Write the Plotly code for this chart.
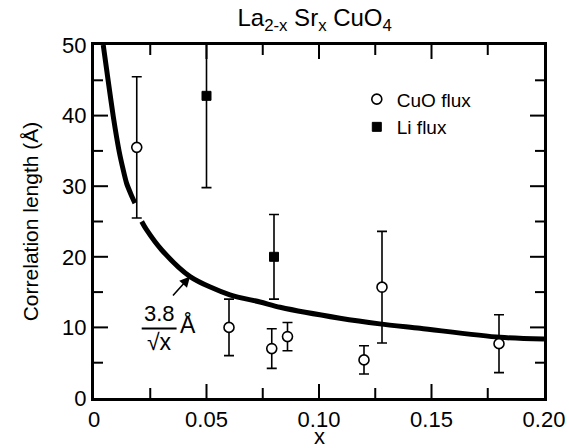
import plotly.graph_objects as go

# CuO flux data
cuo_x = [0.019, 0.060, 0.079, 0.086, 0.120, 0.128, 0.180]
cuo_y = [35.5, 10.0, 7.0, 8.7, 5.4, 15.7, 7.7]
cuo_err = [10.0, 4.0, 2.8, 2.0, 2.0, 7.9, 4.1]

# Li flux data
li_x = [0.050, 0.080]
li_y = [42.8, 20.0]
li_err = [13.0, 6.0]

# Curve 3.8/sqrt(x) as drawn (two pieces, gap at error-bar cap)
curve1_x = [0.0041, 0.0064, 0.0086, 0.0112, 0.0130, 0.0145, 0.0165, 0.0182]
curve1_y = [50.0, 44.7, 39.8, 34.9, 32.3, 30.4, 28.8, 27.6]
curve2_x = [0.0212, 0.0234, 0.030, 0.0427, 0.0604, 0.0738, 0.0827, 0.1093, 0.127, 0.1449, 0.1804, 0.200]
curve2_y = [25.0, 23.8, 21.0, 17.2, 14.6, 13.6, 12.85, 11.3, 10.5, 9.87, 8.6, 8.36]

# tick positions (major, minor)
x_major = [0.05, 0.10, 0.15]
x_minor = [0.025, 0.075, 0.125, 0.175]
y_major = [10, 20, 30, 40]
y_minor = [5, 15, 25, 35, 45]
x_range = [0, 0.2]
y_range = [0, 50]

FONT = "Liberation Sans, Arial, sans-serif"

W, H = 569, 448
ML, MR, MT, MB = 94, 25, 45, 50
px_x = (W - ML - MR) / (x_range[1] - x_range[0])   # pixels per x unit
px_y = (H - MT - MB) / (y_range[1] - y_range[0])   # pixels per y unit

fig = go.Figure()

# inward frame ticks built from the tick arrays (lengths in pixels converted to data units)
tx, ty = [], []
for vals, length in ((x_major, 14), (x_minor, 10)):
    d = length / px_y
    for v in vals:
        tx += [v, v, None, v, v, None]
        ty += [y_range[0], y_range[0] + d, None, y_range[1], y_range[1] - d, None]
for vals, length in ((y_major, 14), (y_minor, 9)):
    d = length / px_x
    for v in vals:
        tx += [x_range[0], x_range[0] + d, None, x_range[1], x_range[1] - d, None]
        ty += [v, v, None, v, v, None]
fig.add_trace(go.Scatter(x=tx, y=ty, mode="lines", line=dict(color="black", width=2),
                         showlegend=False, hoverinfo="skip", connectgaps=False))

fig.add_trace(go.Scatter(x=curve1_x, y=curve1_y, mode="lines",
                         line=dict(color="black", width=5, shape="spline", smoothing=0.6),
                         showlegend=False, hoverinfo="skip"))
fig.add_trace(go.Scatter(x=curve2_x, y=curve2_y, mode="lines",
                         line=dict(color="black", width=5, shape="spline", smoothing=0.8),
                         showlegend=False, hoverinfo="skip"))

fig.add_trace(go.Scatter(x=cuo_x, y=cuo_y, mode="markers", name="CuO flux",
                         marker=dict(symbol="circle", size=10, color="white",
                                     line=dict(color="black", width=1.6)),
                         error_y=dict(type="data", array=cuo_err, visible=True,
                                      color="black", thickness=1.6, width=5)))
fig.add_trace(go.Scatter(x=li_x, y=li_y, mode="markers", name="Li flux",
                         marker=dict(symbol="square", size=9, color="black",
                                     line=dict(color="black", width=1)),
                         error_y=dict(type="data", array=li_err, visible=True,
                                      color="black", thickness=1.6, width=5)))

# fraction label 3.8/sqrt(x) Å with arrow
fig.add_annotation(x=0.029, y=12.0, text="3.8", showarrow=False,
                   font=dict(family=FONT, size=22, color="black"))
fig.add_shape(type="line", x0=0.0212, x1=0.0367, y0=9.85, y1=9.85,
              line=dict(color="black", width=2))
fig.add_annotation(x=0.029, y=7.9, text="√x", showarrow=False,
                   font=dict(family=FONT, size=23, color="black"))
fig.add_annotation(x=0.0418, y=10.4, text="Å", showarrow=False,
                   font=dict(family=FONT, size=23, color="black"))
fig.add_annotation(x=0.0427, y=17.2, ax=0.0345, ay=14.3, axref="x", ayref="y",
                   text="", showarrow=True, arrowhead=2, arrowsize=1.3,
                   arrowwidth=1.6, arrowcolor="black")
# x-axis title as annotation below tick labels
fig.add_annotation(x=0.5, y=-0.108, xref="paper", yref="paper", text="x", showarrow=False,
                   xanchor="center", yanchor="middle",
                   font=dict(family=FONT, size=22, color="black"))

axis_common = dict(showline=True, linecolor="black", linewidth=3, mirror=True,
                   ticks="", showgrid=False, zeroline=False,
                   tickfont=dict(family=FONT, size=22, color="black"))

fig.update_xaxes(range=x_range, tickmode="linear", tick0=0, dtick=0.05,
                 tickformat=".2f", labelalias={"0.00": "0"}, **axis_common)
fig.update_yaxes(range=y_range, tickmode="linear", tick0=0, dtick=10,
                 title=dict(text="Correlation length (Å)", font=dict(family=FONT, size=21, color="black"),
                            standoff=18),
                 **axis_common)

fig.update_layout(
    width=W, height=H,
    margin=dict(l=ML, r=MR, t=MT, b=MB, autoexpand=False),
    paper_bgcolor="white", plot_bgcolor="white",
    title=dict(text="La<sub>2-x</sub> Sr<sub>x</sub> CuO<sub>4</sub>",
               x=0.553, xanchor="center", y=0.96, yanchor="middle", yref="container",
               font=dict(family=FONT, size=24, color="black")),
    legend=dict(x=0.584, y=0.90, xanchor="left", yanchor="top",
                bgcolor="rgba(0,0,0,0)", borderwidth=0,
                font=dict(family=FONT, size=19, color="black"),
                itemwidth=30, tracegroupgap=0),
    font=dict(family=FONT, color="black"),
)

fig.write_html("out.html")
